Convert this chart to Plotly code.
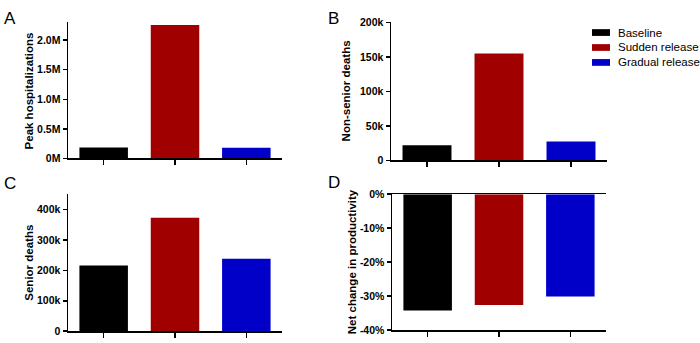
import plotly.graph_objects as go

scenarios = ["Baseline", "Sudden release", "Gradual release"]
colors = ["#000000", "#A00000", "#0000C8"]

peak_hosp = [184000, 2255000, 182000]
nonsenior_deaths = [22000, 155000, 27500]
senior_deaths = [216000, 373000, 238000]
productivity = [-34.2, -32.6, -30.1]

tick_A_vals = [0, 500000, 1000000, 1500000, 2000000]
tick_A_text = ["0M", "0.5M", "1.0M", "1.5M", "2.0M"]
tick_B_vals = [0, 50000, 100000, 150000, 200000]
tick_B_text = ["0", "50k", "100k", "150k", "200k"]
tick_C_vals = [0, 100000, 200000, 300000, 400000]
tick_C_text = ["0", "100k", "200k", "300k", "400k"]
tick_D_vals = [0, -10, -20, -30, -40]
tick_D_text = ["0%", "-10%", "-20%", "-30%", "-40%"]

panels = [
    dict(name="A", data=peak_hosp, title="Peak hospitalizations", rng=[0, 2300000],
         tv=tick_A_vals, tt=tick_A_text),
    dict(name="B", data=nonsenior_deaths, title="Non-senior deaths", rng=[0, 200000],
         tv=tick_B_vals, tt=tick_B_text),
    dict(name="C", data=senior_deaths, title="Senior deaths", rng=[0, 450000],
         tv=tick_C_vals, tt=tick_C_text),
    dict(name="D", data=productivity, title="Net change in productivity", rng=[-40, 0],
         tv=tick_D_vals, tt=tick_D_text),
]

W, H = 700, 343
FONT = "Liberation Sans, Arial, sans-serif"

# pixel boxes: (x0, x1, ytop, ybottom)
boxes = [(68, 282, 17, 158), (391, 607, 17, 160), (68, 282, 195, 337), (392, 606, 195, 336)]
title_x = [29, 346, 29, 352]
letter_pos = [(2, 12.5), (326, 12.5), (2, 184), (326, 182.5)]

fig = go.Figure()
layout = dict(
    width=W, height=H, margin=dict(l=0, r=0, t=0, b=0),
    paper_bgcolor="white", plot_bgcolor="white",
    barmode="overlay",
    font=dict(family=FONT, color="black"),
    showlegend=False,
)
annotations = []
shapes = []

for i, p in enumerate(panels):
    k = "" if i == 0 else str(i + 1)
    x0, x1, yt, yb = boxes[i]
    for j, s in enumerate(scenarios):
        fig.add_trace(go.Bar(
            x=[s], y=[p["data"][j]], name=s, marker=dict(color=colors[j], line=dict(width=0)),
            width=0.68, xaxis="x" + k, yaxis="y" + k,
        ))
    layout["xaxis" + k] = dict(
        domain=[x0 / W, x1 / W], anchor="y" + k,
        categoryorder="array", categoryarray=scenarios, range=[-0.5, 2.5],
        showticklabels=False, ticks="outside", ticklen=5, tickwidth=1.5, tickcolor="black",
        showline=True, linewidth=1.5, linecolor="black", showgrid=False, zeroline=False,
        mirror=(p["name"] == "D"), fixedrange=True,
    )
    layout["yaxis" + k] = dict(
        domain=[1 - yb / H, 1 - yt / H], anchor="x" + k, range=p["rng"],
        tickvals=p["tv"], ticktext=p["tt"],
        tickfont=dict(size=10.5, family=FONT, color="black", weight="bold"),
        ticks="outside", ticklen=4, tickwidth=1.5, tickcolor="black",
        showline=True, linewidth=1.5, linecolor="black", showgrid=False, zeroline=False,
        fixedrange=True,
    )
    annotations.append(dict(
        text=p["title"], xref="paper", yref="paper", x=title_x[i] / W,
        y=1 - (yt + yb) / 2 / H, xanchor="center", yanchor="middle", textangle=-90,
        showarrow=False, font=dict(size=11.5, family=FONT, color="black", weight="bold"),
    ))
    lx, ly = letter_pos[i]
    annotations.append(dict(
        text=p["name"], xref="paper", yref="paper", x=lx / W, y=1 - ly / H,
        xanchor="left", yanchor="middle", showarrow=False,
        font=dict(size=17, family=FONT, color="black"),
    ))

# legend (drawn from the scenario names and colours)
leg_x0, leg_sw, leg_y0, leg_dy, leg_h = 592, 18, 27.5, 15.5, 7
for j, s in enumerate(scenarios):
    cy = leg_y0 + j * leg_dy
    shapes.append(dict(
        type="rect", xref="paper", yref="paper",
        x0=leg_x0 / W, x1=(leg_x0 + leg_sw) / W,
        y0=1 - (cy + leg_h / 2) / H, y1=1 - (cy - leg_h / 2) / H,
        fillcolor=colors[j], line=dict(width=0),
    ))
    annotations.append(dict(
        text=s, xref="paper", yref="paper", x=616 / W, y=1 - cy / H,
        xanchor="left", yanchor="middle", showarrow=False,
        font=dict(size=11.5, family=FONT, color="black"),
    ))

layout["annotations"] = annotations
layout["shapes"] = shapes
fig.update_layout(**layout)
fig.write_html(
    "out.html",
    config={"displayModeBar": False, "staticPlot": True},
    post_script="document.body.style.margin='0';document.body.style.overflow='hidden';",
)
